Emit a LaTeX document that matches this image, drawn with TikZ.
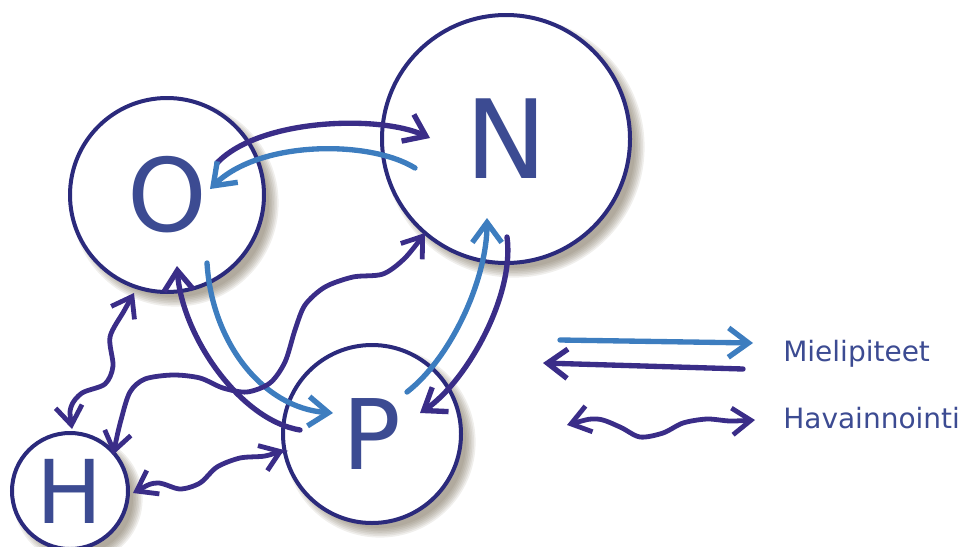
\documentclass[tikz,border=0pt]{standalone}
\usepackage{fontspec}
\setmainfont{DejaVu Sans}
\usetikzlibrary{arrows.meta,calc}
\definecolor{ringblue}{HTML}{2B2A7C}
\definecolor{darkop}{HTML}{3A2D88}
\definecolor{lightop}{HTML}{3D7DBF}
\definecolor{lettercol}{HTML}{3C4B92}
\definecolor{shadowtan}{HTML}{6B5F48}
\pgfdeclarelayer{bg}
\pgfsetlayers{bg,main}
\newcommand\stagefont[1]{\fontsize{#1}{#1}\selectfont}
\tikzset{
  stage/.style={circle, draw=ringblue, line width=3pt, fill=white, text=lettercol, inner sep=0pt},
  opinion/.style={line width=4pt, line cap=round, -{Straight Barb[length=15pt,width=22pt]}},
  seen/.style={draw=darkop, line width=3.6pt, line cap=round,
    {Straight Barb[length=14pt,width=20pt]}-{Straight Barb[length=14pt,width=20pt]}},
  legendtext/.style={text=lettercol, font=\stagefont{21pt}, anchor=base west, inner sep=0pt}
}

\begin{document}
\begin{tikzpicture}[x=0.75pt, y=-0.75pt]
  \useasboundingbox (0,0) rectangle (966,546);

  % circles
  \node [stage, minimum size=145.5pt, font=\stagefont{76pt}] (O) at (167,195) {O};
  \node [stage, minimum size=186pt, font=\stagefont{82pt}] (N) at (506,139) {N};
  \node [stage, minimum size=133.5pt, font=\stagefont{73pt}] (P) at (372,434) {P};
  \node [stage, minimum size=87pt, font=\stagefont{66pt}] (H) at (70,491) {H};

  \begin{pgfonlayer}{bg}
    \foreach \n/\r in {O/97, N/124, P/89, H/58}
      \foreach \k in {0,...,6}
        \fill [shadowtan, opacity=0.1] ($(\n)+(8,8)$) circle [radius=\r-3+1.6*\k];
  \end{pgfonlayer}

  % mielipiteet
  \draw [opinion, darkop] ($(O)+(50,-32)$) .. controls +(43,-45) and +(-50,-23) .. ($(N)+(-76,-1)$);
  \draw [opinion, lightop] ($(N)+(-91,29)$) .. controls +(-45,-28) and +(50,-49) .. ($(O)+(43,-6)$);
  \draw [opinion, lightop] ($(O)+(40,68)$) .. controls +(5,80) and +(-70,-5) .. ($(P)+(-39,-21)$);
  \draw [opinion, darkop] ($(P)+(-72,-4)$) .. controls +(-60,-10) and +(5,70) .. ($(O)+(10,71)$);
  \draw [opinion, lightop] ($(P)+(35,-42)$) .. controls +(45,-35) and +(0,60) .. ($(N)+(-19,79)$);
  \draw [opinion, darkop] ($(N)+(1,98)$) .. controls +(8,60) and +(45,-30) .. ($(P)+(48,-21)$);

  % havainnointi
  \draw [seen] plot [smooth] coordinates {($(H)+(2,-62)$) (71,407) (82,393) (105,384) (113,366)
    (110,337) (124,311) ($(O)+(-33,98)$)};
  \draw [seen] plot [smooth] coordinates {($(H)+(43,-36)$) (121,420) (130,392) (145,379) (173,375)
    (200,378) (223,388) (247,392) (270,383) (285,362) (295,330) (305,305) (325,287) (353,277)
    (383,274) (405,258) ($(N)+(-81,94)$)};
  \draw [seen] plot [smooth] coordinates {($(H)+(63,2)$) (157,483) (180,489) (200,483) (217,467)
    (240,458) (265,456) ($(P)+(-88,16)$)};

  % legend
  \node [legendtext] (mp) at (783,361) {Mielipiteet};
  \node [legendtext] (hv) at (783,428) {Havainnointi};
  \coordinate (mp1) at (560,340);
  \coordinate (mp2) at (753,343);
  \coordinate (mp3) at (743,369);
  \coordinate (mp4) at (543,363);
  \coordinate (hv1) at (567,425);
  \coordinate (hv2) at (755,420);
  \draw [opinion, lightop] (mp1) -- (mp2);
  \draw [opinion, darkop] (mp3) -- (mp4);
  \draw [seen] plot [smooth] coordinates {(hv1) (597,419) (620,427) (640,437) (663,433) (683,423)
    (707,419) (730,421) (hv2)};
\end{tikzpicture}
\end{document}
